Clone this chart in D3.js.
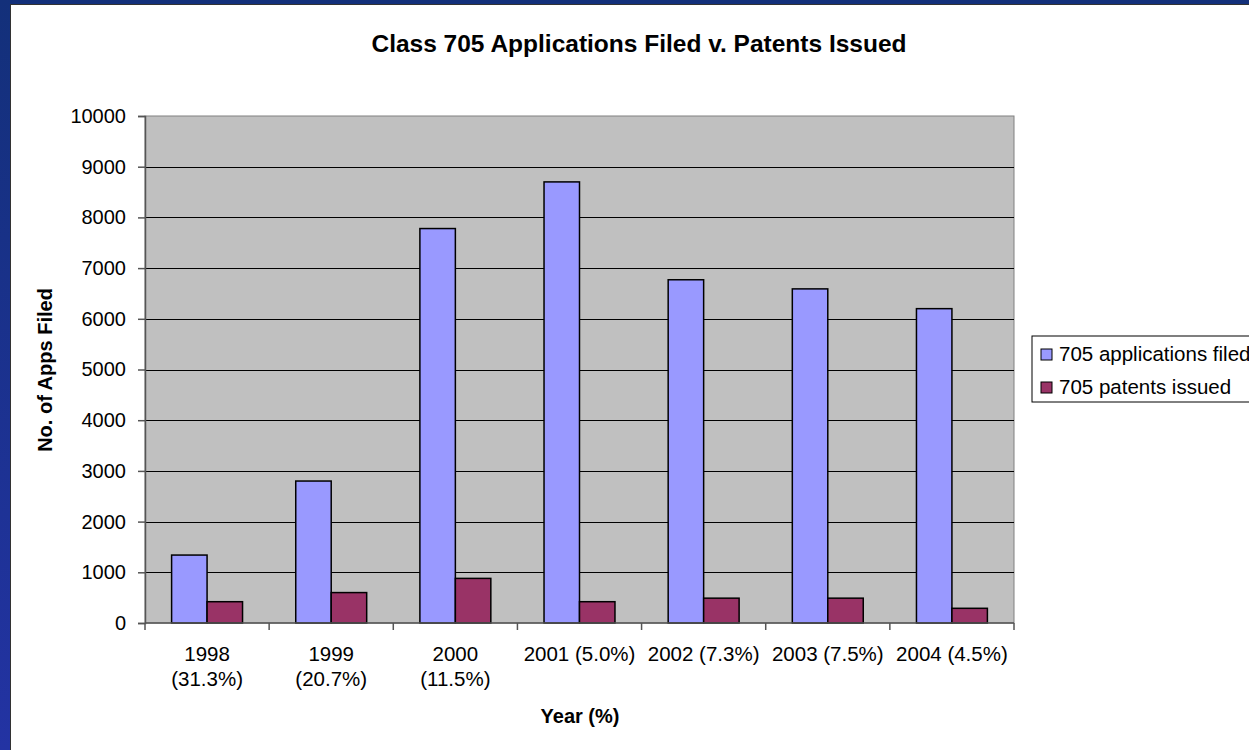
<!DOCTYPE html>
<html>
<head>
<meta charset="utf-8">
<script src="https://cdn.jsdelivr.net/npm/d3@7"></script>
<style>
  body { margin: 0; background: #fff; overflow: hidden; }
  svg { display: block; font-family: "Liberation Sans", Arial, sans-serif; }
</style>
</head>
<body>
<div id="chart"></div>
<script>
// data
const categories = ["1998\n(31.3%)", "1999\n(20.7%)", "2000\n(11.5%)", "2001 (5.0%)", "2002 (7.3%)", "2003 (7.5%)", "2004 (4.5%)"];
const seriesNames = ["705 applications filed", "705 patents issued"];
const appsFiled = [1340, 2800, 7780, 8700, 6770, 6590, 6200];
const patentsIssued = [420, 600, 880, 420, 490, 490, 290];
const yTicks = [0, 1000, 2000, 3000, 4000, 5000, 6000, 7000, 8000, 9000, 10000];
const colors = ["#9999ff", "#993366"];

const width = 1249, height = 750;
const plot = { left: 145, right: 1014, top: 116, bottom: 623 };

const svg = d3.select("#chart")
    .append("svg")
    .attr("width", width)
    .attr("height", height);

// blue frame round the slide
const grad = svg.append("defs").append("linearGradient")
    .attr("id", "frame").attr("x1", 0).attr("y1", 0).attr("x2", 0).attr("y2", 1);
grad.append("stop").attr("offset", "0%").attr("stop-color", "#13307a");
grad.append("stop").attr("offset", "100%").attr("stop-color", "#2333a3");

svg.append("rect").attr("width", width).attr("height", height).attr("fill", "url(#frame)");
svg.append("rect").attr("x", 10).attr("y", 4).attr("width", width).attr("height", height).attr("fill", "#333");
svg.append("rect").attr("x", 11).attr("y", 5).attr("width", width).attr("height", height).attr("fill", "#fff");

const x = d3.scaleBand()
    .domain(categories)
    .range([plot.left, plot.right])
    .padding(0);

const xInner = d3.scaleBand()
    .domain(seriesNames)
    .range([0, x.bandwidth()])
    .paddingInner(0)
    .paddingOuter(0.75);

const y = d3.scaleLinear()
    .domain([0, 10000])
    .range([plot.bottom, plot.top]);

// plot area
svg.append("rect")
    .attr("x", plot.left).attr("y", plot.top)
    .attr("width", plot.right - plot.left).attr("height", plot.bottom - plot.top)
    .attr("fill", "#c0c0c0")
    .attr("stroke", "#808080");

// gridlines
svg.append("g")
    .selectAll("line")
    .data(yTicks.filter(d => d > 0 && d < 10000))
    .join("line")
    .attr("x1", plot.left).attr("x2", plot.right)
    .attr("y1", d => Math.round(y(d)) + 0.5).attr("y2", d => Math.round(y(d)) + 0.5)
    .attr("stroke", "#000");

// bars
const rows = categories.map((c, i) => ({ cat: c, values: [appsFiled[i], patentsIssued[i]] }));

svg.append("g")
    .selectAll("g")
    .data(rows)
    .join("g")
    .attr("transform", d => `translate(${x(d.cat)},0)`)
    .selectAll("rect")
    .data(d => d.values.map((v, j) => ({ name: seriesNames[j], value: v, j })))
    .join("rect")
    .attr("x", d => xInner(d.name))
    .attr("y", d => y(d.value))
    .attr("width", xInner.bandwidth())
    .attr("height", d => y(0) - y(d.value))
    .attr("fill", d => colors[d.j])
    .attr("stroke", "#000")
    .attr("stroke-width", 1.5);

// y axis
const yAxis = svg.append("g")
    .attr("transform", `translate(${plot.left},0)`)
    .call(d3.axisLeft(y).tickValues(yTicks).tickSize(7).tickPadding(12).tickFormat(d3.format("d")));
yAxis.selectAll("path, line").attr("stroke", "#555").attr("stroke-width", 1.5);
yAxis.selectAll("text").attr("font-size", "20px").attr("fill", "#000")
    .attr("font-family", "Liberation Sans, Arial, sans-serif");

// x axis
const xAxis = svg.append("g")
    .attr("transform", `translate(0,${plot.bottom})`);
xAxis.append("line")
    .attr("x1", plot.left).attr("x2", plot.right)
    .attr("stroke", "#555").attr("stroke-width", 1.5);
xAxis.selectAll(".tick")
    .data(categories.concat([null]))
    .join("line")
    .attr("class", "tick")
    .attr("x1", (d, i) => plot.left + i * x.step())
    .attr("x2", (d, i) => plot.left + i * x.step())
    .attr("y1", 0).attr("y2", 7)
    .attr("stroke", "#555").attr("stroke-width", 1.5);

const xLabels = xAxis.selectAll(".label")
    .data(categories)
    .join("text")
    .attr("class", "label")
    .attr("text-anchor", "middle")
    .attr("font-size", "20.5px")
    .attr("transform", d => `translate(${x(d) + x.bandwidth() / 2},38)`);
xLabels.selectAll("tspan")
    .data(d => d.split("\n"))
    .join("tspan")
    .attr("x", 0)
    .attr("dy", (d, i) => i === 0 ? 0 : 25)
    .text(d => d);

// titles
svg.append("text")
    .attr("x", 639).attr("y", 52)
    .attr("text-anchor", "middle")
    .attr("font-size", "24.5px").attr("font-weight", "bold")
    .text("Class 705 Applications Filed v. Patents Issued");

svg.append("text")
    .attr("transform", "translate(52,370) rotate(-90)")
    .attr("text-anchor", "middle")
    .attr("font-size", "20px").attr("font-weight", "bold")
    .text("No. of Apps Filed");

svg.append("text")
    .attr("x", 580).attr("y", 723)
    .attr("text-anchor", "middle")
    .attr("font-size", "20px").attr("font-weight", "bold")
    .text("Year (%)");

// legend
const legend = svg.append("g").attr("transform", "translate(1032,336)");
legend.append("rect")
    .attr("width", 260).attr("height", 66)
    .attr("fill", "#fff").attr("stroke", "#000");
const item = legend.selectAll(".item")
    .data(seriesNames)
    .join("g")
    .attr("class", "item")
    .attr("transform", (d, i) => `translate(0,${18 + i * 33})`);
item.append("rect")
    .attr("x", 9).attr("y", -5)
    .attr("width", 11).attr("height", 11)
    .attr("fill", (d, i) => colors[i])
    .attr("stroke", "#000");
item.append("text")
    .attr("x", 27).attr("y", 7)
    .attr("font-size", "20.5px")
    .text(d => d);
</script>
</body>
</html>
